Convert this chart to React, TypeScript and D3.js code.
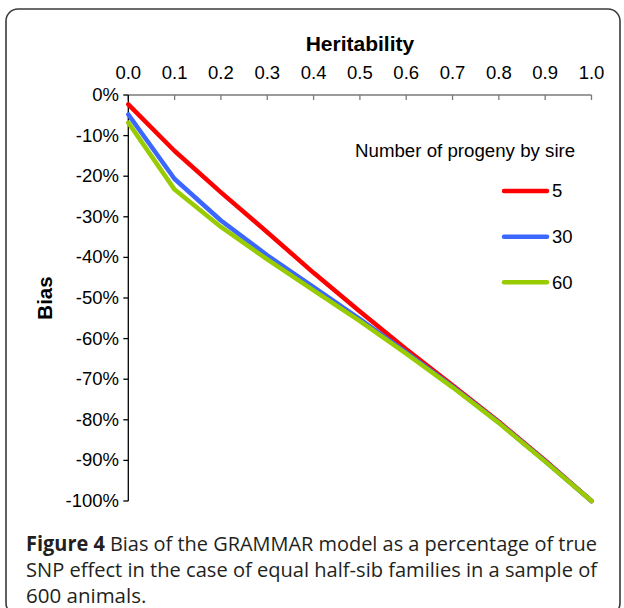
import React from "react";
import * as d3 from "d3";

const heritability = [0, 0.1, 0.2, 0.3, 0.4, 0.5, 0.6, 0.7, 0.8, 0.9, 1.0];
const bias5 = [-2.3, -13.8, -24.0, -33.8, -43.8, -53.3, -62.6, -71.5, -80.5, -90.0, -100];
const bias30 = [-4.8, -20.7, -30.9, -39.5, -47.3, -55.2, -63.4, -71.8, -80.7, -90.2, -100];
const bias60 = [-6.8, -23.3, -32.5, -40.5, -48.1, -55.7, -63.7, -72.0, -80.8, -90.3, -100];
const seriesNames = ["5", "30", "60"];
const seriesColors = ["#ff0000", "#3b66ff", "#99cc00"];
const yTicks = [0, -10, -20, -30, -40, -50, -60, -70, -80, -90, -100];
const xTickLabels = ["0.0", "0.1", "0.2", "0.3", "0.4", "0.5", "0.6", "0.7", "0.8", "0.9", "1.0"];
const captionLines = [
  "Bias of the GRAMMAR model as a percentage of true",
  "SNP effect in the case of equal half-sib families in a sample of",
  "600 animals.",
];

export default function App() {
  const W = 624, H = 608;
  const x = d3.scaleLinear().domain([0, 1]).range([128.3, 591.5]);
  const y = d3.scaleLinear().domain([0, -100]).range([95, 501]);
  const allSeries = [bias5, bias30, bias60];
  const line = d3
    .line<number>()
    .x((_, i) => x(heritability[i]))
    .y((d) => y(d));
  const font = "'Liberation Sans', Arial, sans-serif";
  const capFont = "'Open Sans', 'Noto Sans', sans-serif";
  const legendY = [191, 236.7, 282.3];

  return (
    <svg
      width={W}
      height={H}
      style={{ position: "absolute", left: 0, top: 0, background: "#fff" }}
    >
      <rect x={0} y={0} width={W} height={H} fill="#fff" />
      <rect x={6} y={9} width={614} height={606} rx={12} ry={12} fill="none" stroke="#3a3a3a" strokeWidth={1.6} />

      {/* x axis at top */}
      <text x={(x(0) + x(1)) / 2} y={51} textAnchor="middle" fontFamily={font} fontWeight="bold" fontSize={21} fill="#000">
        Heritability
      </text>
      <line x1={x(0)} x2={x(1)} y1={y(0)} y2={y(0)} stroke="#7a7a7a" strokeWidth={1.3} />
      {heritability.map((h, i) => (
        <g key={"xt" + i}>
          <line x1={x(h)} x2={x(h)} y1={y(0)} y2={y(0) + 5} stroke="#7a7a7a" strokeWidth={1.3} />
          <text x={x(h)} y={79.3} textAnchor="middle" fontFamily={font} fontSize={18.5} fill="#000">
            {xTickLabels[i]}
          </text>
        </g>
      ))}

      {/* y axis */}
      <line x1={x(0)} x2={x(0)} y1={y(0)} y2={y(-100)} stroke="#000" strokeWidth={1.3} />
      {yTicks.map((t) => (
        <g key={"yt" + t}>
          <line x1={x(0) - 5} x2={x(0)} y1={y(t)} y2={y(t)} stroke="#000" strokeWidth={1.3} />
          <text x={119} y={y(t) + 6} textAnchor="end" fontFamily={font} fontSize={18.5} fill="#000">
            {t + "%"}
          </text>
        </g>
      ))}
      <text
        transform={`translate(52,${(y(0) + y(-100)) / 2}) rotate(-90)`}
        textAnchor="middle"
        fontFamily={font}
        fontWeight="bold"
        fontSize={20.5}
        fill="#000"
      >
        Bias
      </text>

      {/* lines */}
      {allSeries.map((s, k) => (
        <path key={"s" + k} d={line(s) || ""} fill="none" stroke={seriesColors[k]} strokeWidth={4.5} strokeLinejoin="round" strokeLinecap="round" />
      ))}

      {/* legend */}
      <text x={355} y={157} fontFamily={font} fontSize={18.7} fill="#000">
        Number of progeny by sire
      </text>
      {seriesNames.map((n, k) => (
        <g key={"lg" + k}>
          <line x1={504} x2={547} y1={legendY[k]} y2={legendY[k]} stroke={seriesColors[k]} strokeWidth={4.5} strokeLinecap="round" />
          <text x={552} y={legendY[k] + 6.3} fontFamily={font} fontSize={18.5} fill="#000">
            {n}
          </text>
        </g>
      ))}

      {/* caption */}
      <text x={26} y={551} fontFamily={capFont} fontSize={20.5} fill="#231f20" textLength={571} lengthAdjust="spacingAndGlyphs">
        <tspan fontWeight="bold">Figure 4</tspan>
        <tspan>{" " + captionLines[0]}</tspan>
      </text>
      <text x={26} y={577} fontFamily={capFont} fontSize={20.5} fill="#231f20" textLength={571} lengthAdjust="spacingAndGlyphs">
        {captionLines[1]}
      </text>
      <text x={26} y={603} fontFamily={capFont} fontSize={20.5} fill="#231f20">
        {captionLines[2]}
      </text>
    </svg>
  );
}
